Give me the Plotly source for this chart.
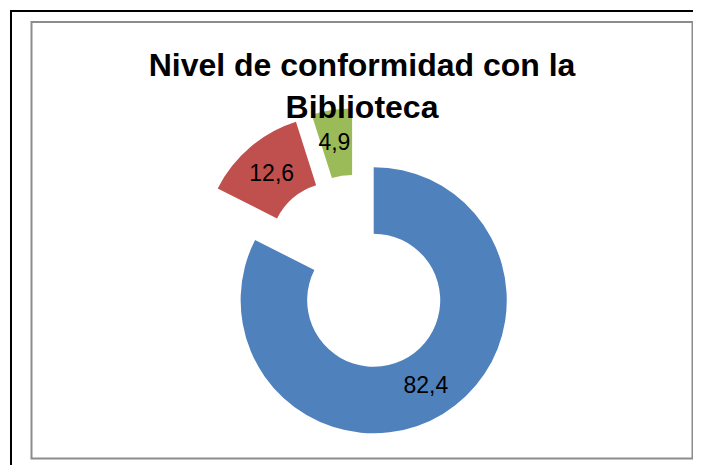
import plotly.graph_objects as go

# Data
categories = ["Satisfecho", "Poco satisfecho", "Insatisfecho"]
values = [82.4, 12.6, 4.9]
value_labels = ["82,4", "12,6", "\u00a0<br>4,9"]
colors = ["#4F81BD", "#C0504D", "#9BBB59"]
title_text = "Nivel de conformidad con la<br>Biblioteca"

W, H = 701, 465
OFF = 8  # page body margin offset

cx, cy, half = 357 - OFF, 273 - OFF, 165

fig = go.Figure(
    go.Pie(
        labels=categories,
        values=values,
        text=value_labels,
        textinfo="text",
        textposition="inside",
        insidetextorientation="horizontal",
        textfont=dict(family="Liberation Sans, Arial, sans-serif", size=23, color="black"),
        marker=dict(colors=colors, line=dict(width=0)),
        hole=0.5,
        pull=[0.24, 0.24, 0.24],
        sort=False,
        direction="clockwise",
        rotation=0,
        showlegend=False,
        hoverinfo="label+value",
        domain=dict(
            x=[(cx - half) / W, (cx + half) / W],
            y=[1 - (cy + half) / H, 1 - (cy - half) / H],
        ),
    )
)

fig.update_layout(
    width=W,
    height=H,
    margin=dict(l=0, r=0, t=0, b=0),
    paper_bgcolor="white",
    plot_bgcolor="white",
    uniformtext=dict(minsize=23, mode="show"),
    title=dict(
        text=title_text,
        x=(362 - OFF) / W,
        xanchor="center",
        y=1 - (76 - OFF) / H,
        yanchor="top",
        font=dict(family="Liberation Sans, Arial, sans-serif", size=32, color="black", weight="bold"),
    ),
    shapes=[
        dict(type="rect", xref="paper", yref="paper",
             x0=(11 - OFF) / W, x1=1.1, y0=-0.1, y1=1 - (11 - OFF) / H,
             line=dict(color="black", width=2), fillcolor="rgba(0,0,0,0)", layer="below"),
        dict(type="rect", xref="paper", yref="paper",
             x0=(31.5 - OFF) / W, x1=(692.5 - OFF) / W,
             y0=1 - (458.5 - OFF) / H, y1=1 - (22 - OFF) / H,
             line=dict(color="#8c8c8c", width=2), fillcolor="rgba(0,0,0,0)", layer="below"),
    ],
)

fig.write_html("out.html")
